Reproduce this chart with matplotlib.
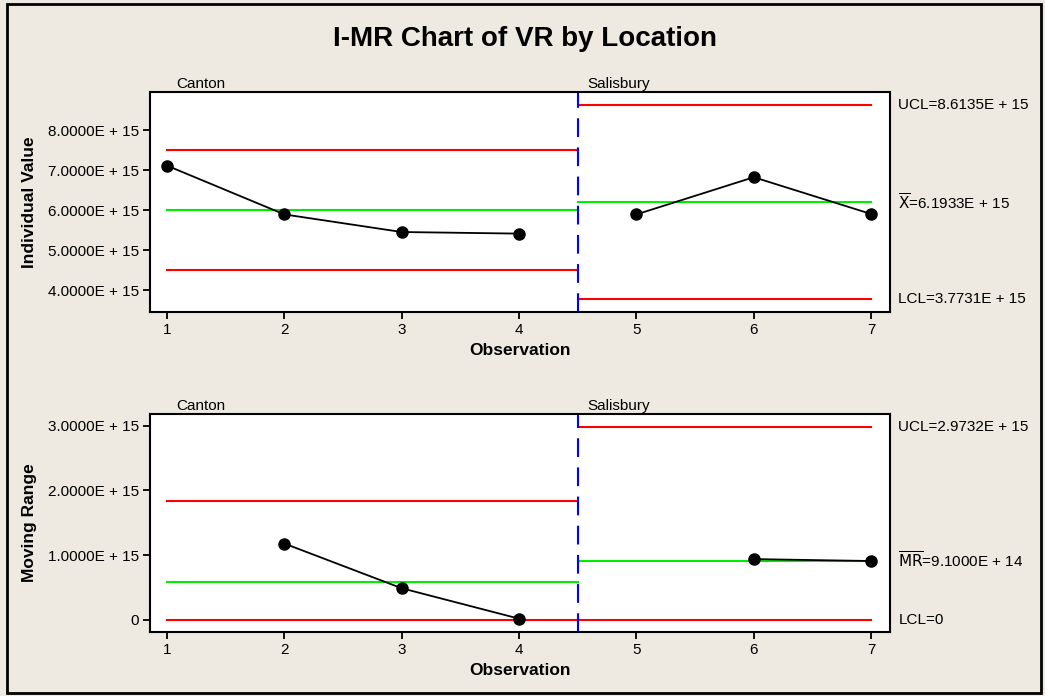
import matplotlib
matplotlib.use("Agg")
import matplotlib.pyplot as plt
from matplotlib.patches import Rectangle

plt.rcParams['font.family'] = ['Liberation Sans', 'DejaVu Sans']

# data
obs = [1, 2, 3, 4, 5, 6, 7]
individual = [7.11e15, 5.89e15, 5.45e15, 5.41e15, 5.89e15, 6.82e15, 5.90e15]
mr_obs = [2, 3, 4, 6, 7]
moving_range = [1.18e15, 0.49e15, 0.02e15, 0.94e15, 0.91e15]

groups = ["Canton", "Salisbury"]
group_start = [1, 4.5]
group_end = [4.5, 7]
split = 4.5

i_ucl = [7.49e15, 8.6135e15]
i_center = [6.0e15, 6.1933e15]
i_lcl = [4.49e15, 3.7731e15]

mr_ucl = [1.84e15, 2.9732e15]
mr_center = [0.58e15, 0.91e15]
mr_lcl = [0.0, 0.0]

i_ticks = [4e15, 5e15, 6e15, 7e15, 8e15]
i_ticklabels = ["4.0000E + 15", "5.0000E + 15", "6.0000E + 15", "7.0000E + 15", "8.0000E + 15"]
mr_ticks = [0, 1e15, 2e15, 3e15]
mr_ticklabels = ["0", "1.0000E + 15", "2.0000E + 15", "3.0000E + 15"]

i_labels = ["UCL=8.6135E + 15", r"$\overline{\mathrm{X}}$=6.1933E + 15", "LCL=3.7731E + 15"]
mr_labels = ["UCL=2.9732E + 15", r"$\overline{\mathrm{MR}}$=9.1000E + 14", "LCL=0"]

bg = "#EEEAE1"
fig = plt.figure(figsize=(10.45, 6.96), dpi=100, facecolor=bg)
fig.patches.append(Rectangle((7 / 1045, 3 / 696), 1034 / 1045, 689 / 696,
                             transform=fig.transFigure, fill=False,
                             edgecolor="black", linewidth=2))
fig.text(0.502, 0.944, "I-MR Chart of VR by Location", ha="center", va="center",
         fontsize=20, fontweight="bold")

ax1 = fig.add_axes([0.1435, 0.5517, 0.7081, 0.3161])
ax2 = fig.add_axes([0.1435, 0.0920, 0.7081, 0.3132])


def draw_panel(ax, x, y, ucl, center, lcl, labels, ticks, ticklabels, ylim, ylabel):
    for k in range(len(groups)):
        xs = [group_start[k], group_end[k]]
        ax.plot(xs, [ucl[k]] * 2, color="#FF0000", lw=1.5)
        ax.plot(xs, [center[k]] * 2, color="#00EE00", lw=1.5)
        ax.plot(xs, [lcl[k]] * 2, color="#FF0000", lw=1.5)
    ax.axvline(split, color="#0000FF", lw=1.5, dashes=(9, 5))
    # points, one line per group
    for k in range(len(groups)):
        gx = [a for a in x if group_start[k] <= a <= group_end[k]]
        gy = [b for a, b in zip(x, y) if group_start[k] <= a <= group_end[k]]
        ax.plot(gx, gy, color="black", lw=1.3, marker="o", markersize=8, zorder=5)
    ax.set_xlim(0.855, 7.16)
    ax.set_ylim(*ylim)
    ax.set_xticks(obs)
    ax.set_yticks(ticks)
    ax.set_yticklabels(ticklabels)
    ax.tick_params(direction="out", length=5, width=1.3, labelsize=11, pad=3)
    for s in ax.spines.values():
        s.set_linewidth(1.5)
    ax.set_xlabel("Observation", fontsize=12.5, fontweight="bold", labelpad=4)
    ax.set_ylabel(ylabel, fontsize=12.5, fontweight="bold")
    for val, txt in zip([ucl[1], center[1], lcl[1]], labels):
        ax.annotate(txt, xy=(1.0, val), xycoords=("axes fraction", "data"),
                    xytext=(6, 0), textcoords="offset points", va="center",
                    ha="left", fontsize=11)
    ax.text(1.08, 1.005, groups[0], transform=ax.get_xaxis_transform(),
            fontsize=11, va="bottom")
    ax.text(4.58, 1.005, groups[1], transform=ax.get_xaxis_transform(),
            fontsize=11, va="bottom")


draw_panel(ax1, obs, individual, i_ucl, i_center, i_lcl, i_labels,
           i_ticks, i_ticklabels, (3.45e15, 8.95e15), "Individual Value")
draw_panel(ax2, mr_obs, moving_range, mr_ucl, mr_center, mr_lcl, mr_labels,
           mr_ticks, mr_ticklabels, (-0.185e15, 3.18e15), "Moving Range")

ax1.yaxis.set_label_coords(-0.152, 0.5)
ax2.yaxis.set_label_coords(-0.152, 0.5)

fig.savefig("out.png", dpi=100, facecolor=bg)
